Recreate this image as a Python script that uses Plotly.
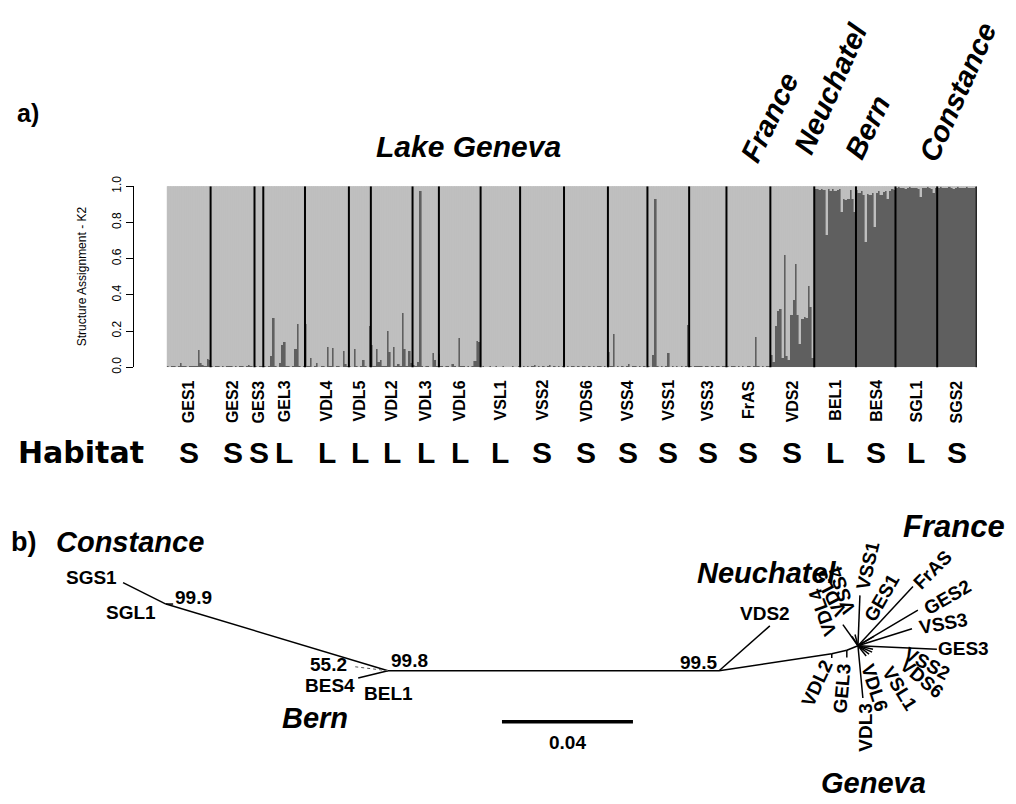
import plotly.graph_objects as go

W, H = 1016, 804
FONT = "Liberation Sans, Arial, Helvetica, sans-serif"
WIDE_FONT = "DejaVu Sans, Liberation Sans, Arial, sans-serif"
LIGHT = "#bfbfbf"
DARK = "#5f5f5f"

# ---------------- panel a) data: STRUCTURE K=2 assignment (cluster-2 share) ----------------
populations = ["GES1", "GES2", "GES3", "GEL3", "VDL4", "VDL5", "VDL2", "VDL3", "VDL6", "VSL1",
               "VSS2", "VDS6", "VSS4", "VSS1", "VSS3", "FrAS", "VDS2", "BEL1", "BES4", "SGL1", "SGS2"]
habitat = ["S", "S", "S", "L", "L", "L", "L", "L", "L", "L",
           "S", "S", "S", "S", "S", "S", "S", "L", "S", "L", "S"]

q_GES1 = [0.004, 0.003, 0.005, 0.004, 0.003, 0.004, 0.02, 0.005, 0.004, 0.003, 0.004, 0.006, 0.005, 0.004, 0.095, 0.02, 0.01, 0.005, 0.045, 0.04]
q_GES2 = [0.004, 0.003, 0.004, 0.005, 0.003, 0.004, 0.003, 0.004, 0.005, 0.004, 0.003, 0.004, 0.003, 0.005, 0.004, 0.003, 0.004, 0.01, 0.004, 0.003]
q_GES3 = [0.004, 0.003, 0.005, 0.004]
q_GEL3 = [0.004, 0.003, 0.005, 0.06, 0.27, 0.004, 0.003, 0.02, 0.12, 0.14, 0.005, 0.004, 0.003, 0.004, 0.10, 0.24, 0.004, 0.003, 0.005]
q_VDL4 = [0.24, 0.004, 0.05, 0.003, 0.004, 0.02, 0.003, 0.004, 0.005, 0.003, 0.11, 0.004, 0.105, 0.003, 0.004, 0.005, 0.003, 0.09, 0.015, 0.004]
q_VDL5 = [0.004, 0.003, 0.10, 0.004, 0.003, 0.005, 0.04, 0.004, 0.003, 0.225]
q_VDL2 = [0.12, 0.004, 0.10, 0.03, 0.04, 0.005, 0.004, 0.20, 0.085, 0.003, 0.11, 0.004, 0.015, 0.005, 0.30, 0.10, 0.004, 0.09, 0.02]
q_VDL3 = [0.01, 0.004, 0.03, 0.97, 0.004, 0.003, 0.005, 0.004, 0.003, 0.08, 0.04, 0.004]
q_VDL6 = [0.075, 0.004, 0.003, 0.005, 0.004, 0.003, 0.015, 0.004, 0.003, 0.16, 0.004, 0.005, 0.003, 0.004, 0.003, 0.005, 0.035, 0.145, 0.14]
q_VSL1 = [0.003, 0.004, 0.003, 0.002, 0.004, 0.003, 0.003, 0.004, 0.002, 0.003, 0.004, 0.003, 0.003, 0.002, 0.004, 0.003, 0.003, 0.004]
q_VSS2 = [0.003, 0.004, 0.003, 0.004, 0.003, 0.004, 0.012, 0.003, 0.004, 0.003, 0.004, 0.003, 0.004, 0.01, 0.003, 0.004, 0.003, 0.004, 0.003, 0.004]
q_VDS6 = [0.003, 0.004, 0.003, 0.005, 0.004, 0.003, 0.004, 0.003, 0.004, 0.005, 0.003, 0.004, 0.003, 0.004, 0.003, 0.005, 0.004, 0.003, 0.004, 0.003]
q_VSS4 = [0.085, 0.004, 0.18, 0.003, 0.004, 0.003, 0.004, 0.003, 0.004, 0.015, 0.003, 0.004, 0.008, 0.003, 0.004, 0.003, 0.004, 0.003]
q_VSS1 = [0.004, 0.003, 0.065, 0.93, 0.004, 0.003, 0.004, 0.003, 0.004, 0.08, 0.003, 0.004, 0.003, 0.004, 0.003, 0.004, 0.003, 0.004, 0.23]
q_VSS3 = [0.004, 0.003, 0.005, 0.004, 0.006, 0.004, 0.003, 0.004, 0.005, 0.003, 0.004, 0.003, 0.005, 0.004, 0.003, 0.004, 0.005]
q_FrAS = [0.004, 0.003, 0.004, 0.005, 0.003, 0.004, 0.003, 0.004, 0.003, 0.005, 0.004, 0.003, 0.004, 0.165, 0.004, 0.003, 0.004, 0.003, 0.004, 0.005]
q_VDS2 = [0.065, 0.03, 0.225, 0.31, 0.32, 0.05, 0.62, 0.06, 0.04, 0.29, 0.37, 0.57, 0.29, 0.125, 0.265, 0.275, 0.27, 0.45, 0.33, 0.05]
q_BEL1 = [0.982, 0.985, 0.978, 0.983, 0.98, 0.73, 0.982, 0.975, 0.985, 0.972, 0.978, 0.983, 0.856, 0.93, 0.925, 0.93, 0.98, 0.93, 0.856]
q_BES4 = [0.98, 0.96, 0.975, 0.95, 0.69, 0.955, 0.95, 0.96, 0.775, 0.96, 0.97, 0.95, 0.965, 0.975, 0.93, 0.975, 0.985, 0.98]
q_SGL1 = [0.99, 0.992, 0.988, 0.99, 0.985, 0.99, 0.992, 0.99, 0.988, 0.99, 0.985, 0.937, 0.99, 0.988, 0.992, 0.99, 0.985, 0.964, 0.99]
q_SGS2 = [0.99, 0.992, 0.99, 0.988, 0.99, 0.992, 0.99, 0.985, 0.99, 0.992, 0.99, 0.988, 0.99, 0.992, 0.99, 0.988, 0.99, 0.992]

assignment_table = [q_GES1, q_GES2, q_GES3, q_GEL3, q_VDL4, q_VDL5, q_VDL2, q_VDL3, q_VDL6, q_VSL1,
                    q_VSS2, q_VDS6, q_VSS4, q_VSS1, q_VSS3, q_FrAS, q_VDS2, q_BEL1, q_BES4, q_SGL1, q_SGS2]

regions = ["Lake Geneva", "France", "Neuchatel", "Bern", "Constance"]
region_first = ["GES1", "FrAS", "VDS2", "BEL1", "SGL1"]
region_last = ["VSS3", "FrAS", "VDS2", "BES4", "SGS2"]
region_has_line = [True, False, False, True, True]

y_ticks = [0.0, 0.2, 0.4, 0.6, 0.8, 1.0]

# ---------------- panel b) data: unrooted NJ tree (units of 0.01 distance) ----------------
tree_nodes = ["SGS1", "SGL1", "nC", "nB", "BES4", "BEL1", "nN", "VDS2", "g1", "VDL2", "g2", "GEL3", "nG",
              "VSS1", "VDL3", "FrAS", "GES1", "GES2", "VSS3", "GES3", "VSS2", "VDS6", "VSL1", "VDL6",
              "VDL4", "VDL5", "VSS4"]
tree_x = [-11.51, -9.98, -10.20, -3.42, -4.33, -4.48, 6.69, 8.24, 10.13, 10.13, 10.59, 10.59, 10.93,
          10.99, 11.08, 12.61, 11.42, 12.76, 12.58, 13.34, 11.39, 11.36, 11.27, 11.18,
          10.47, 10.75, 10.84]
tree_y = [2.75, 2.08, 2.08, 0.00, -0.23, 0.13, 0.00, 1.40, 0.53, 0.40, 0.64, 0.41, 0.78,
          2.35, -0.85, 2.63, 1.07, 1.89, 1.31, 0.67, 0.67, 0.58, 0.52, 0.46,
          1.44, 1.07, 1.13]
tree_edges = [("nC", "SGS1"), ("nC", "SGL1"), ("nC", "nB"), ("nB", "BES4"), ("nB", "nN"),
              ("nN", "VDS2"), ("nN", "g1"), ("g1", "VDL2"), ("g1", "g2"), ("g2", "GEL3"), ("g2", "nG"),
              ("nG", "VSS1"), ("nG", "VDL3"), ("nG", "FrAS"), ("nG", "GES1"), ("nG", "GES2"),
              ("nG", "VSS3"), ("nG", "GES3"), ("nG", "VSS2"), ("nG", "VDS6"), ("nG", "VSL1"),
              ("nG", "VDL6"), ("nG", "VDL4"), ("nG", "VDL5"), ("nG", "VSS4")]
tree_weak_edges = [("nB", "BEL1")]

tip_labels = ["SGS1", "SGL1", "BES4", "BEL1", "VDS2", "VSS1", "GES1", "FrAS", "GES2", "VSS3", "GES3",
              "VSS2", "VDS6", "VSL1", "VDL6", "VDL3", "GEL3", "VDL2", "VDL4", "VDL5", "VSS4"]
tip_label_x = [-12.46, -11.27, -5.19, -3.39, 8.09, 11.24, 11.66, 13.22, 13.65, 13.53, 14.14,
               13.04, 12.89, 12.21, 11.45, 11.15, 10.44, 9.68, 9.83, 10.08, 10.44]
tip_label_y = [2.90, 1.83, -0.47, -0.70, 1.77, 3.27, 2.29, 3.15, 2.29, 1.47, 0.70,
               0.24, -0.24, -0.55, -0.55, -1.77, -0.55, -0.40, 1.83, 2.41, 2.53]
tip_label_angle = [0, 0, 0, 0, 0, -77, -60, -45, -30, -10, 0,
                   28, 40, 58, 72, -90, -85, -65, -110, -118, -108]

bootstrap = ["99.9", "99.8", "55.2", "99.5"]
bootstrap_x = [-9.37, -2.75, -5.25, 6.05]
bootstrap_y = [2.29, 0.31, 0.19, 0.27]

tree_regions = ["Constance", "Bern", "Neuchatel", "France", "Geneva"]
tree_region_x = [-11.30, -5.65, 8.15, 13.87, 11.39]
tree_region_y = [4.03, -1.47, 3.05, 4.49, -3.51]
tree_region_size = [29, 29, 29, 31, 29]

scale_length = 4.0        # 0.04 substitutions
scale_label = "0.04"

# ---------------- build figure ----------------
def px(v):
    return v / W

def py(v):
    return 1 - v / H

counts = [len(q) for q in assignment_table]
starts = []
acc = 0
for c in counts:
    starts.append(acc)
    acc += c
N = acc
centers = [s + c / 2 for s, c in zip(starts, counts)]

xs, q2, q1 = [], [], []
for s, q in zip(starts, assignment_table):
    for i, v in enumerate(q):
        xs.append(s + i + 0.5)
        q2.append(v)
        q1.append(1 - v)

fig = go.Figure()
fig.add_trace(go.Bar(x=xs, y=q2, width=1, marker=dict(color=DARK, line=dict(color=DARK, width=0.4)),
                     xaxis="x", yaxis="y", hoverinfo="skip", showlegend=False))
fig.add_trace(go.Bar(x=xs, y=q1, width=1, marker=dict(color=LIGHT, line=dict(color=LIGHT, width=0.4)),
                     xaxis="x", yaxis="y", hoverinfo="skip", showlegend=False))

shapes = []
shapes.append(dict(type="rect", xref="x", yref="y", x0=0, x1=N, y0=0, y1=1,
                   fillcolor=LIGHT, line=dict(width=0), layer="below"))
for s, c in zip(starts, counts):
    b = s + c
    shapes.append(dict(type="line", xref="x", yref="y", x0=b, x1=b, y0=-0.012, y1=1,
                       line=dict(color="black", width=2)))

annotations = []
pos = {p: i for i, p in enumerate(populations)}
region_label_px = {"Lake Geneva": (468, 139, 0, 30), "France": (769, 110, -64, 29),
                   "Neuchatel": (831, 80, -66, 29), "Bern": (868, 120, -64, 29),
                   "Constance": (958, 84, -66, 29)}
for name, f, l, has in zip(regions, region_first, region_last, region_has_line):
    a = starts[pos[f]]
    b = starts[pos[l]] + counts[pos[l]]
    if has:
        inset_l = 0 if name == "Lake Geneva" else 1.6
        shapes.append(dict(type="line", xref="x", yref="y", x0=a + inset_l, x1=b - 1.8, y0=1.108, y1=1.108,
                           line=dict(color="black", width=1.5)))
    lx, ly, ang, fs = region_label_px[name]
    annotations.append(dict(text="<b><i>%s</i></b>" % name, x=px(lx), y=py(ly), xref="paper", yref="paper",
                            showarrow=False, textangle=ang, xanchor="center", yanchor="middle",
                            font=dict(family=FONT, size=fs, color="black")))

for p, cx, hb in zip(populations, centers, habitat):
    annotations.append(dict(text="<b>%s</b>" % p, x=cx, y=py(376), xref="x", yref="paper",
                            showarrow=False, textangle=-90, xanchor="center", yanchor="top",
                            font=dict(family=FONT, size=16, color="black")))
    annotations.append(dict(text="<b>%s</b>" % hb, x=cx, y=py(452), xref="x", yref="paper",
                            showarrow=False, xanchor="center", yanchor="middle",
                            font=dict(family=FONT, size=30, color="black")))
annotations.append(dict(text="<b>Habitat</b>", x=px(16), y=py(452), xref="paper", yref="paper",
                        showarrow=False, xanchor="left", yanchor="middle",
                        font=dict(family=WIDE_FONT, size=30, color="black")))
annotations.append(dict(text="<b>a)</b>", x=px(28), y=py(105), xref="paper", yref="paper",
                        showarrow=False, xanchor="center", yanchor="middle",
                        font=dict(family=FONT, size=25, color="black")))
annotations.append(dict(text="Structure Assignment - K2", x=px(82), y=py(272), xref="paper", yref="paper",
                        showarrow=False, textangle=-90, xanchor="center", yanchor="middle",
                        font=dict(family=FONT, size=12, color="black")))

# ---------------- tree ----------------
node = {n: (x, y) for n, x, y in zip(tree_nodes, tree_x, tree_y)}
ex, ey = [], []
for a, b in tree_edges:
    ex += [node[a][0], node[b][0], None]
    ey += [node[a][1], node[b][1], None]
fig.add_trace(go.Scatter(x=ex, y=ey, mode="lines", line=dict(color="black", width=1.5),
                         xaxis="x2", yaxis="y2", hoverinfo="skip", showlegend=False))
wx, wy = [], []
for a, b in tree_weak_edges:
    wx += [node[a][0], node[b][0], None]
    wy += [node[a][1], node[b][1], None]
fig.add_trace(go.Scatter(x=wx, y=wy, mode="lines", line=dict(color="#555555", width=1, dash="dot"),
                         xaxis="x2", yaxis="y2", hoverinfo="skip", showlegend=False))
sb_x0, sb_y = 0.06, -1.59
fig.add_trace(go.Scatter(x=[sb_x0, sb_x0 + scale_length], y=[sb_y, sb_y], mode="lines",
                         line=dict(color="black", width=3.5), xaxis="x2", yaxis="y2",
                         hoverinfo="skip", showlegend=False))
annotations.append(dict(text="<b>%s</b>" % scale_label, x=sb_x0 + scale_length / 2, y=sb_y - 0.64,
                        xref="x2", yref="y2", showarrow=False, xanchor="center", yanchor="middle",
                        font=dict(family=FONT, size=19, color="black")))

for t, x, y, a in zip(tip_labels, tip_label_x, tip_label_y, tip_label_angle):
    annotations.append(dict(text="<b>%s</b>" % t, x=x, y=y, xref="x2", yref="y2", showarrow=False,
                            textangle=a, xanchor="center", yanchor="middle",
                            font=dict(family=FONT, size=19, color="black")))
for t, x, y in zip(bootstrap, bootstrap_x, bootstrap_y):
    annotations.append(dict(text="<b>%s</b>" % t, x=x, y=y, xref="x2", yref="y2", showarrow=False,
                            xanchor="center", yanchor="middle",
                            font=dict(family=FONT, size=19, color="black")))
for t, x, y, fs in zip(tree_regions, tree_region_x, tree_region_y, tree_region_size):
    annotations.append(dict(text="<b><i>%s</i></b>" % t, x=x, y=y, xref="x2", yref="y2", showarrow=False,
                            xanchor="center", yanchor="middle",
                            font=dict(family=FONT, size=fs, color="black")))
annotations.append(dict(text="<b>b)</b>", x=px(23), y=py(543), xref="paper", yref="paper",
                        showarrow=False, xanchor="center", yanchor="middle",
                        font=dict(family=FONT, size=27, color="black")))

ux = 32.75  # pixels per tree unit
fig.update_layout(
    width=W, height=H, margin=dict(l=0, r=0, t=0, b=0),
    paper_bgcolor="white", plot_bgcolor="white",
    barmode="stack", bargap=0, showlegend=False,
    xaxis=dict(domain=[px(166.7), px(976.7)], range=[0, N], visible=False, anchor="y", fixedrange=True),
    yaxis=dict(domain=[py(365), py(180)], range=[0, 1], anchor="free", position=px(133),
               showline=True, linecolor="black", linewidth=1, ticks="outside", ticklen=7,
               tickcolor="black", tickvals=y_ticks, ticktext=["%.1f" % v for v in y_ticks],
               tickangle=-90, tickfont=dict(family=FONT, size=12, color="black"),
               showgrid=False, zeroline=False, fixedrange=True),
    xaxis2=dict(domain=[0, 1], range=[-500 / ux, (W - 500) / ux], visible=False, anchor="y2"),
    yaxis2=dict(domain=[0, py(500)], range=[(675 - H) / ux, (675 - 500) / ux], visible=False, anchor="x2"),
    shapes=shapes, annotations=annotations,
)

fig.write_html("out.html")
